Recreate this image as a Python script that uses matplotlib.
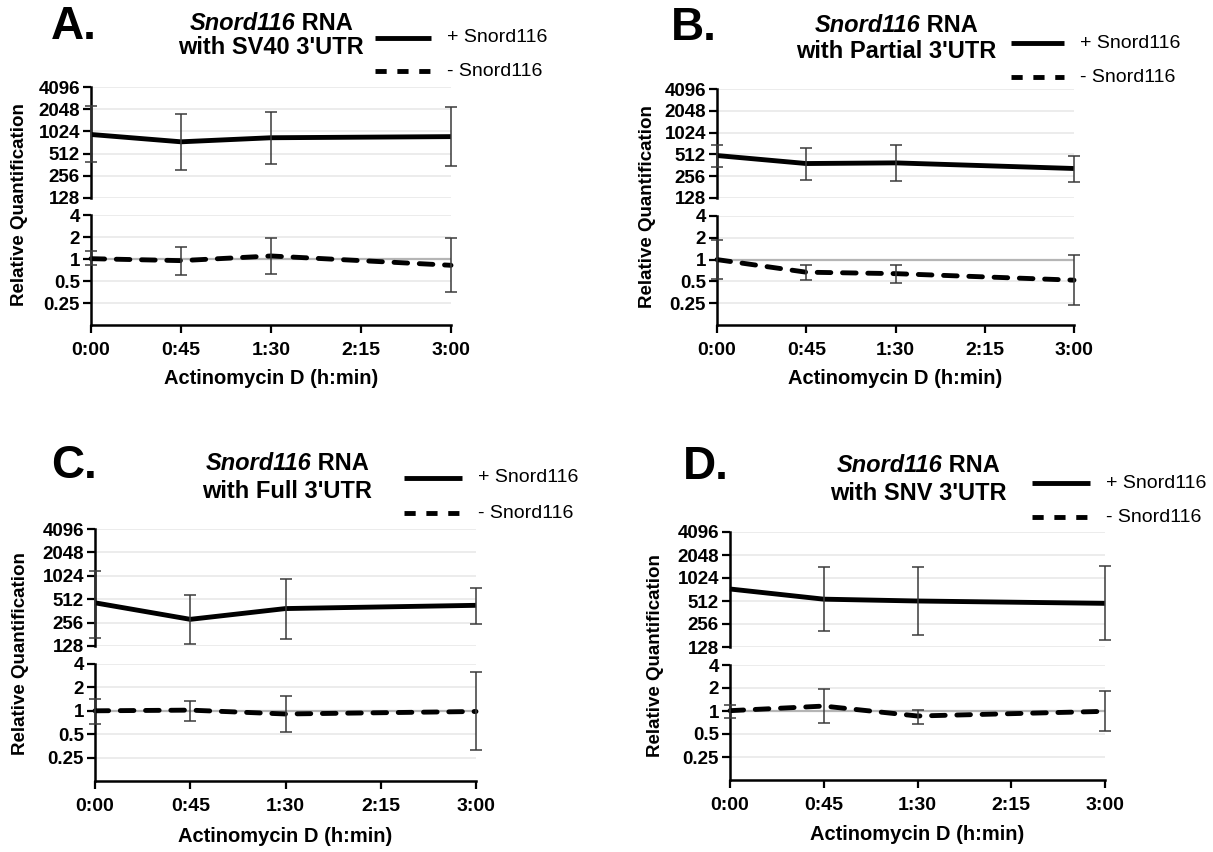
import numpy as np
import matplotlib.pyplot as plt
from matplotlib.lines import Line2D

plt.rcParams['font.family'] = ['Liberation Sans', 'DejaVu Sans']

W, H = 1213, 852

# ---- data ----
TIMES = [0, 45, 90, 180]                      # minutes
XTICKS = [0, 45, 90, 135, 180]
XTICK_LABELS = ["0:00", "0:45", "1:30", "2:15", "3:00"]
TOP_TICKS = [128, 256, 512, 1024, 2048, 4096]
TOP_TICK_LABELS = ["128", "256", "512", "1024", "2048", "4096"]
BOTTOM_TICKS = [0.25, 0.5, 1, 2, 4]
BOTTOM_TICK_LABELS = ["0.25", "0.5", "1", "2", "4"]

LETTERS = ["A.", "B.", "C.", "D."]
UTR_NAMES = ["SV40", "Partial", "Full", "SNV"]

# + Snord116 (mean, upper, lower)
A_plus = [930, 740, 840, 870]
A_plus_hi = [2250, 1740, 1900, 2210]
A_plus_lo = [390, 308, 365, 345]
B_plus = [494, 383, 391, 327]
B_plus_hi = [694, 627, 685, 492]
B_plus_lo = [342, 228, 217, 212]
C_plus = [460, 282, 388, 427]
C_plus_hi = [1190, 581, 944, 720]
C_plus_lo = [161, 134, 159, 249]
D_plus = [735, 541, 512, 477]
D_plus_hi = [np.nan, 1430, 1430, 1450]
D_plus_lo = [np.nan, 208, 182, 156]

# - Snord116 (mean, upper, lower)
A_minus = [1.01, 0.95, 1.1, 0.82]
A_minus_hi = [1.27, 1.45, 1.96, 1.92]
A_minus_lo = [0.82, 0.61, 0.63, 0.35]
B_minus = [1.0, 0.67, 0.64, 0.52]
B_minus_hi = [1.84, 0.85, 0.84, 1.17]
B_minus_lo = [0.54, 0.53, 0.47, 0.235]
C_minus = [1.0, 1.02, 0.91, 0.98]
C_minus_hi = [1.41, 1.33, 1.54, 3.13]
C_minus_lo = [0.67, 0.74, 0.53, 0.31]
D_minus = [1.01, 1.16, 0.86, 0.99]
D_minus_hi = [1.19, 1.93, 1.04, 1.8]
D_minus_lo = [0.82, 0.69, 0.68, 0.54]

PLUS = [(A_plus, A_plus_lo, A_plus_hi), (B_plus, B_plus_lo, B_plus_hi),
        (C_plus, C_plus_lo, C_plus_hi), (D_plus, D_plus_lo, D_plus_hi)]
MINUS = [(A_minus, A_minus_lo, A_minus_hi), (B_minus, B_minus_lo, B_minus_hi),
         (C_minus, C_minus_lo, C_minus_hi), (D_minus, D_minus_lo, D_minus_hi)]

# ---- layout in pixels: axis x0, x1, top segment y0,y1, bottom segment y0,y1
LAYOUT = [
    dict(x0=91, x1=451, top=(87, 198), bot=(215, 325), letter=(51, 27),
         title=(271, 24, 48), leg=(375, 431, 38, 71), ylab=(20, 205), xlab=378),
    dict(x0=717, x1=1074, top=(89, 198), bot=(216, 325), letter=(671, 28),
         title=(896, 25, 52), leg=(1011, 1064, 43, 77), ylab=(647, 207), xlab=378),
    dict(x0=95, x1=476, top=(529, 646), bot=(664, 781), letter=(51, 466),
         title=(287, 464, 491), leg=(404, 462, 478, 513), ylab=(21, 654), xlab=837),
    dict(x0=730, x1=1105, top=(532, 647), bot=(665, 780), letter=(683, 467),
         title=(918, 465, 493), leg=(1032, 1090, 483, 517), ylab=(655, 656), xlab=835),
]

SPINE_LW = 1.8
LINE_LW = 3.5
DASHES = (2.8, 2.4)

fig = plt.figure(figsize=(W / 100, H / 100), dpi=100)
renderer = fig.canvas.get_renderer()


def rect(x0, x1, y0, y1):
    return [x0 / W, 1 - y1 / H, (x1 - x0) / W, (y1 - y0) / H]


def fx(x):
    return x / W


def fy(y):
    return 1 - y / H


def style_axis(ax, ticks, labels, lims, show_x):
    ax.set_yscale('log', base=2)
    ax.set_ylim(*lims)
    ax.set_yticks(ticks)
    ax.set_yticklabels(labels)
    ax.minorticks_off()
    ax.set_xlim(0, 180)
    ax.set_xticks(XTICKS)
    for s in ['top', 'right']:
        ax.spines[s].set_visible(False)
    ax.spines['left'].set_linewidth(SPINE_LW)
    ax.spines['bottom'].set_linewidth(SPINE_LW)
    ax.yaxis.grid(True, color='#e9e9e9', lw=1.2, zorder=0)
    ax.set_axisbelow(True)
    ax.tick_params(axis='y', length=6, width=1.6, labelsize=13.5, pad=2)
    for t in ax.get_yticklabels():
        t.set_fontweight('bold')
    if show_x:
        ax.set_xticklabels(XTICK_LABELS)
        ax.tick_params(axis='x', length=6, width=1.6, labelsize=14, pad=6)
        for t in ax.get_xticklabels():
            t.set_fontweight('bold')
    else:
        ax.spines['bottom'].set_visible(False)
        ax.tick_params(axis='x', length=0, labelbottom=False)
    ax.patch.set_alpha(0)


def draw_series(ax, vals, lo, hi, dashed):
    vals = np.array(vals, float)
    err = np.vstack([vals - np.array(lo, float), np.array(hi, float) - vals])
    kw = dict(color='black', lw=LINE_LW, zorder=3, clip_on=False,
              solid_capstyle='butt')
    if dashed:
        kw['dashes'] = DASHES
        kw['dash_capstyle'] = 'round'
    ax.plot(TIMES, vals, **kw)
    ax.errorbar(TIMES, vals, yerr=err, fmt='none', ecolor='#3a3a3a',
                elinewidth=1.1, capsize=4, capthick=1.1, zorder=4, clip_on=False)


for i, lay in enumerate(LAYOUT):
    ax_top = fig.add_axes(rect(lay['x0'], lay['x1'], *lay['top']))
    ax_bot = fig.add_axes(rect(lay['x0'], lay['x1'], *lay['bot']))
    style_axis(ax_top, TOP_TICKS, TOP_TICK_LABELS, (128, 4096), False)
    style_axis(ax_bot, BOTTOM_TICKS, BOTTOM_TICK_LABELS, (0.125, 4), True)
    ax_bot.axhline(1, color='#b5b5b5', lw=1.6, zorder=1)

    draw_series(ax_top, *PLUS[i], dashed=False)
    draw_series(ax_bot, *MINUS[i], dashed=True)

    fig.text(fx((lay['x0'] + lay['x1']) / 2), fy(lay['xlab']), "Actinomycin D (h:min)",
             fontsize=14.5, fontweight='bold', ha='center', va='center')

    fig.text(fx(lay['ylab'][0]), fy(lay['ylab'][1]), "Relative Quantification",
             rotation=90, ha='center', va='center', fontsize=13.5, fontweight='bold')

    # panel letter
    fig.text(fx(lay['letter'][0]), fy(lay['letter'][1]), LETTERS[i],
             fontsize=33, fontweight='bold', ha='left', va='center')

    # title: italic gene name + bold rest
    cx, y1, y2 = lay['title']
    t1 = fig.text(0, fy(y1), "Snord116", fontsize=17, fontweight='bold',
                  style='italic', va='center', ha='left')
    t2 = fig.text(0, fy(y1), " RNA", fontsize=17, fontweight='bold',
                  va='center', ha='left')
    w1 = t1.get_window_extent(renderer).width
    w2 = t2.get_window_extent(renderer).width
    xs = cx - (w1 + w2) / 2
    t1.set_x(fx(xs))
    t2.set_x(fx(xs + w1))
    fig.text(fx(cx), fy(y2), "with %s 3'UTR" % UTR_NAMES[i], fontsize=17,
             fontweight='bold', ha='center', va='center')

    # legend
    lx0, lx1, ly1, ly2 = lay['leg']
    fig.add_artist(Line2D([fx(lx0), fx(lx1)], [fy(ly1), fy(ly1)], color='black',
                          lw=LINE_LW, solid_capstyle='butt'))
    fig.add_artist(Line2D([fx(lx0), fx(lx1)], [fy(ly2), fy(ly2)], color='black',
                          lw=LINE_LW, dashes=(2.3, 2.2), dash_capstyle='butt'))
    fig.text(fx(lx1 + 16), fy(ly1), "+ Snord116", fontsize=14, va='center')
    fig.text(fx(lx1 + 16), fy(ly2), "- Snord116", fontsize=14, va='center')

fig.savefig("out.png", dpi=100)
